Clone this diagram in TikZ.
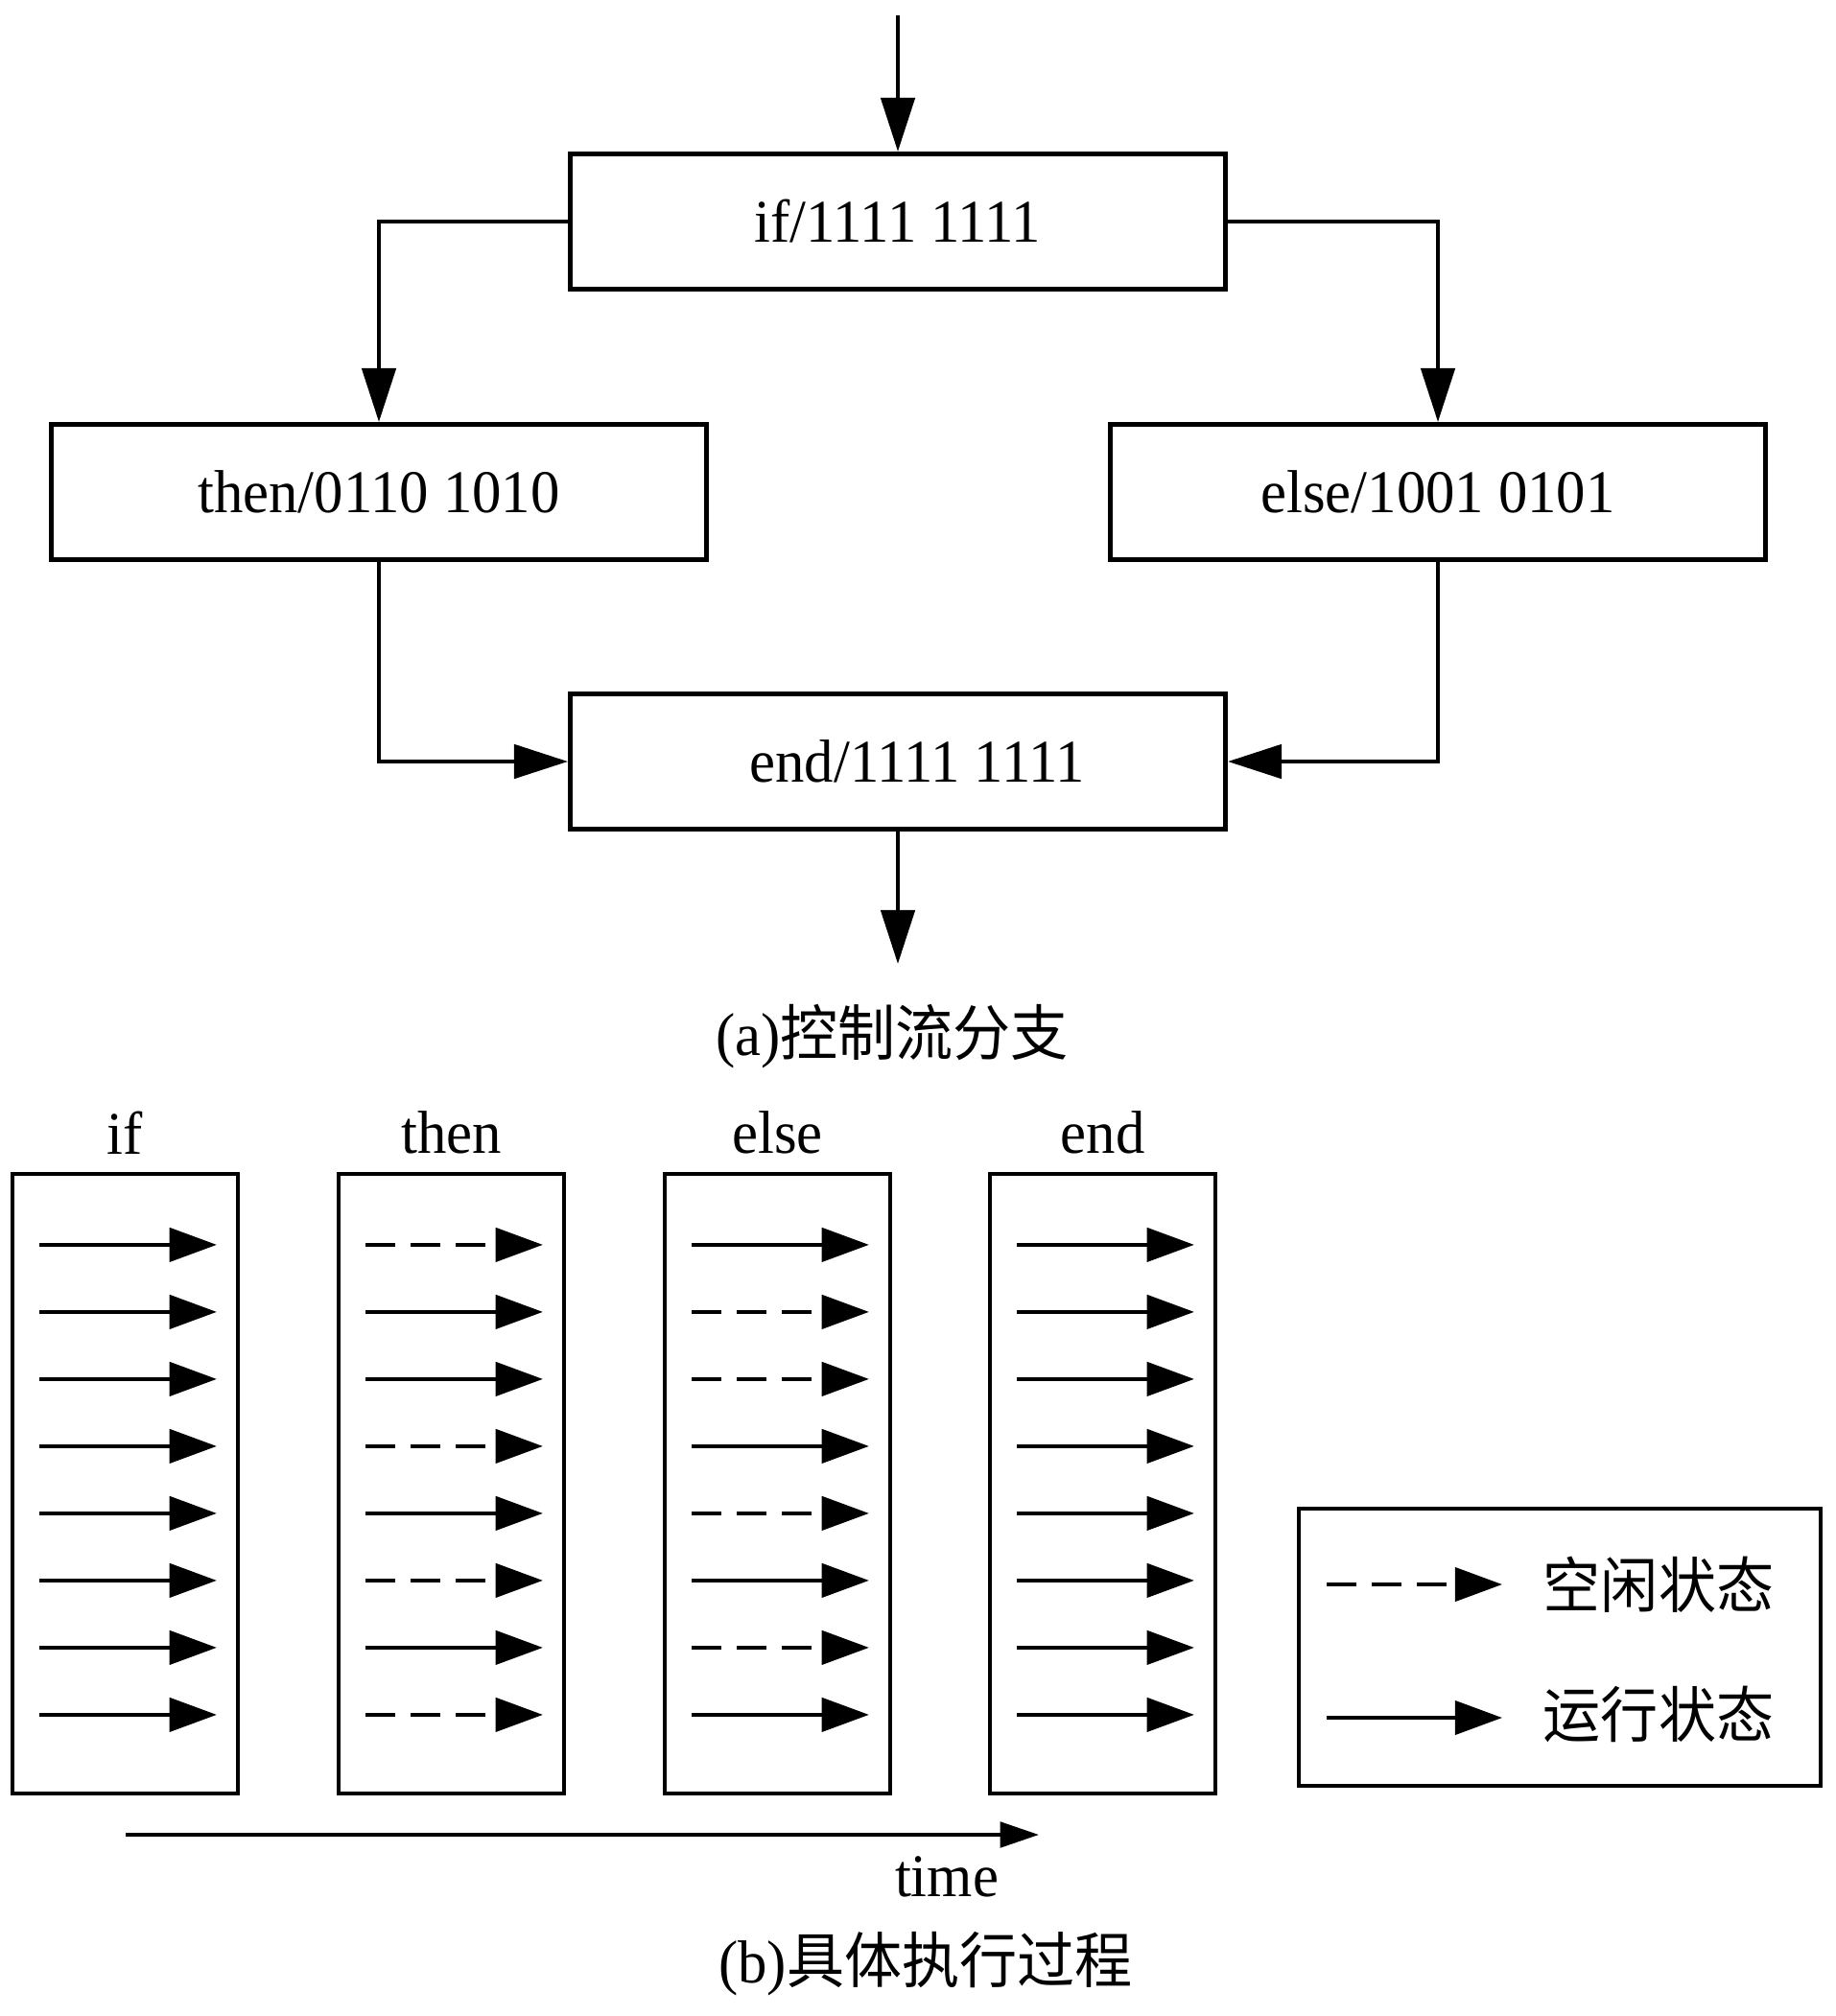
\documentclass[tikz,border=0pt]{standalone}
\usepackage{fontspec}
\setmainfont{Liberation Serif}[FakeStretch=0.96]
\newfontfamily\cjk{Noto Sans CJK SC}[FakeStretch=0.95]
\usetikzlibrary{arrows.meta,positioning,calc}

\tikzset{
  flowbox/.style={draw=black,line width=1.4pt,minimum width=6.83cm,minimum height=1.41cm,inner sep=0pt},
  flowarrow/.style={line width=1.3pt,-{Triangle[length=16pt,width=10pt]}},
  colbox/.style={draw=black,line width=1.2pt,minimum width=2.35cm,minimum height=6.46cm,inner sep=0pt},
  coltitle/.style={inner sep=0pt,above=0.18cm of #1},
  bit1/.style={line width=1.1pt,-{Triangle[length=14pt,width=10pt]}},
  bit0/.style={bit1,dash pattern=on 8.8pt off 4.6pt},
  timearrow/.style={line width=1.2pt,-{Triangle[length=11.5pt,width=7.5pt]}}
}

\begin{document}
\begin{tikzpicture}[font=\fontsize{18}{22}\selectfont]
    \useasboundingbox (0,0) rectangle (19.13,-21.02);
    % (a) control flow
    \node[flowbox] (if) at (9.36,-2.31) {if/1111 1111};
    \node[flowbox] (then) at (3.95,-5.13) {then/0110 1010};
    \node[flowbox] (else) at (14.99,-5.13) {else/1001 0101};
    \node[flowbox] (end) at (9.36,-7.94) {\hspace*{0.4cm}end/1111 1111};
    \coordinate (in) at (9.36,-0.16);
    \coordinate (out) at (9.36,-10.05);
    \draw[flowarrow] (in) -- (if);
    \draw[flowarrow] (if.west) -| (then.north);
    \draw[flowarrow] (if.east) -| (else.north);
    \draw[flowarrow] (then.south) |- (end.west);
    \draw[flowarrow] (else.south) |- (end.east);
    \draw[flowarrow] (end) -- (out);
    \node (capa) at (9.30,-10.81) {(a){\cjk 控制流分支}};

    % (b) execution
    \node[colbox] (ifcol) at (1.305,-15.47) {};
    \node[colbox] (thencol) at (4.705,-15.47) {};
    \node[colbox] (elsecol) at (8.105,-15.47) {};
    \node[colbox] (endcol) at (11.495,-15.47) {};
    \node[coltitle=ifcol] {if};
    \node[coltitle=thencol] {then};
    \node[coltitle=elsecol] {else};
    \node[coltitle=endcol] {end};
    \foreach \col/\bits in {ifcol/{1,1,1,1,1,1,1,1},thencol/{0,1,1,0,1,0,1,0},
                            elsecol/{1,0,0,1,0,1,0,1},endcol/{1,1,1,1,1,1,1,1}}
        \foreach \b [count=\i] in \bits
            \draw[bit\b] ($(\col.north west)+(0.30,{-0.76-0.70*(\i-1)})$) -- ++(1.85,0);

    % legend
    \node[draw=black,line width=1.2pt,minimum width=5.44cm,minimum height=2.89cm] (legend) at (16.26,-17.175) {};
    \coordinate (idlekey) at (13.83,-16.52);
    \coordinate (runkey) at (13.83,-17.91);
    \draw[bit0] (idlekey) -- ++(1.83,0);
    \draw[bit1] (runkey) -- ++(1.83,0);
    \node (idletext) at (17.29,-16.52) {\cjk 空闲状态};
    \node (runtext) at (17.29,-17.87) {\cjk 运行状态};

    \coordinate (t0) at (1.31,-19.13);
    \coordinate (t1) at (10.83,-19.13);
    \draw[timearrow] (t0) -- (t1);
    \node (time) at (9.87,-19.57) {time};
    \node (capb) at (9.65,-20.48) {(b){\cjk 具体执行过程}};
\end{tikzpicture}
\end{document}
